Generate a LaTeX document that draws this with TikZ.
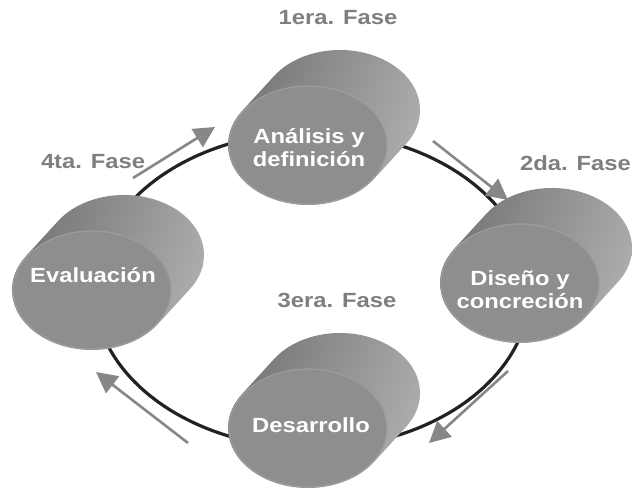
\documentclass[tikz,border=0pt]{standalone}
\usepackage{fontspec}
\setmainfont[FakeStretch=1.16]{Liberation Sans}
\usetikzlibrary{arrows.meta}
\definecolor{bodydark}{HTML}{737373}
\definecolor{bodylight}{HTML}{B0B0B0}
\definecolor{faceg}{HTML}{8E8E8E}
\definecolor{facerim}{HTML}{9C9C9C}
\definecolor{labelg}{HTML}{7F7F7F}
\definecolor{arrowg}{HTML}{878787}
\definecolor{ringc}{HTML}{222222}
\tikzset{
  phaselabel/.style={text=labelg, font=\fontsize{20.5}{23}\selectfont\bfseries},
  cyltext/.style={text=white, align=center, font=\fontsize{20.5}{23}\selectfont\bfseries},
  flowarrow/.style={draw=arrowg, line width=2.6pt, -{Triangle[length=21pt,width=21pt]}},
  ring/.style={draw=ringc, line width=3.2pt},
  cylbody/.style={left color=bodydark, right color=bodylight, shading angle=70},
  cylface/.style={fill=faceg, draw=facerim, line width=1.2pt}
}
\begin{document}
\begin{tikzpicture}[x=1pt,y=1pt]
\useasboundingbox (0,0) rectangle (632,488);
\fill[white] (0,0) rectangle (632,488);
% ring
\draw[ring] (312,198) ellipse [x radius=218, y radius=158];
% cylinders
\foreach \cx/\cy in {308/343, 92/198, 520/205, 308/60}{
  \shade[cylbody] (\cx-66,\cy+33.9) -- ++(32,35)
    arc[start angle=145.6, end angle=-34.4, x radius=80, y radius=60]
    -- ++(-32,-35)
    arc[start angle=-34.4, end angle=-214.4, x radius=80, y radius=60] -- cycle;
  \filldraw[cylface] (\cx,\cy) ellipse [x radius=79, y radius=59];
}
% texts in cylinders
\node[cyltext] (ana) at (309,340) {Análisis y\\definición};
\node[cyltext] (eva) at (93,213) {Evaluación};
\node[cyltext] (dis) at (520,198) {Diseño y\\concreción};
\node[cyltext] (des) at (311,63) {Desarrollo};
% phase labels
\node[phaselabel] (f1) at (338,470) {1era. Fase};
\node[phaselabel, anchor=east, inner sep=1pt] (f2) at (632,325) {2da. Fase};
\node[phaselabel] (f3) at (337,188) {3era. Fase};
\node[phaselabel] (f4) at (93,326) {4ta. Fase};
% arrows
\coordinate (a1s) at (133,310); \coordinate (a1e) at (215,361);
\coordinate (a2s) at (433,347); \coordinate (a2e) at (508,288);
\coordinate (a3s) at (508,117); \coordinate (a3e) at (429,45);
\coordinate (a4s) at (188,45);  \coordinate (a4e) at (96,116);
\draw[flowarrow] (a1s) -- (a1e);
\draw[flowarrow] (a2s) -- (a2e);
\draw[flowarrow] (a3s) -- (a3e);
\draw[flowarrow] (a4s) -- (a4e);
\end{tikzpicture}
\end{document}
